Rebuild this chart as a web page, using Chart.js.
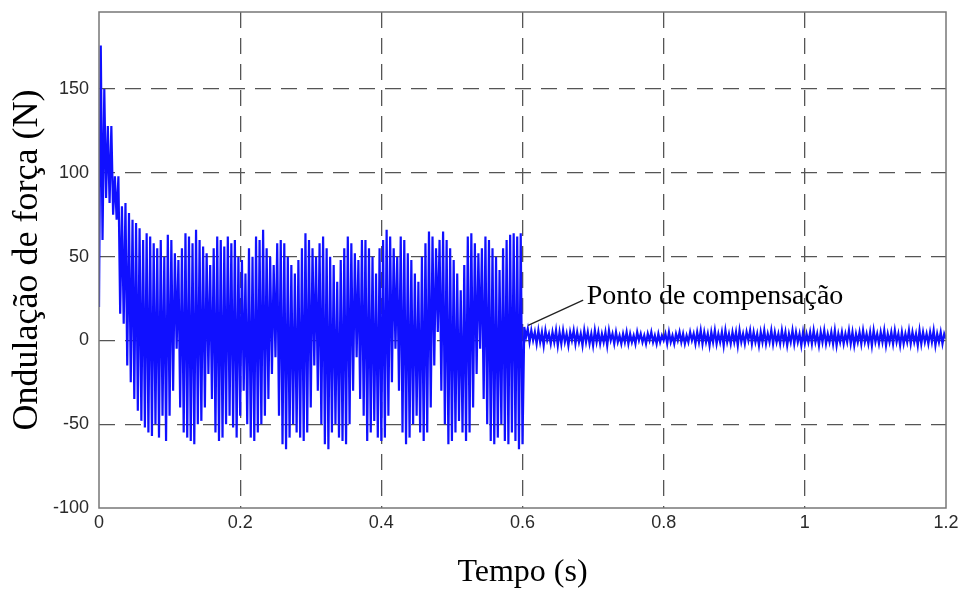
<!DOCTYPE html>
<html>
<head>
<meta charset="utf-8">
<script src="https://cdn.jsdelivr.net/npm/chart.js@4.4.1/dist/chart.umd.min.js"></script>
<style>
  html, body { margin: 0; padding: 0; background: #fff; }
  #wrap { width: 965px; height: 590px; }
</style>
</head>
<body>
<div id="wrap"><canvas id="force-chart"></canvas></div>
<script>
// sample step of the trace (s)
const dt = 0.0025;

// force ripple before compensation, t = 0 .. 0.6 s
const forceBefore = [
  20, 176, 60, 150, 85, 128, 82, 128, 75, 98, 72, 98,
  16, 80, 10, 82, -15, 76, -25, 72, -35, 70, -42, 67, -48, 60, -52, 64,
  -55, 62, -57, 58, -50, 55, -58, 60, -45, 50, -60, 63,
  -45, 60, -30, 52, -5, 48, -40, 55, -55, 64, -58, 62, -60, 58, -62, 66, -50, 60, -48, 56,
  -40, 52, -20, 45, -35, 55, -55, 62, -60, 60, -58, 56, -50, 62, -45, 58, -52, 60, -58, 50,
  -45, 48, -30, 40, -50, 55, -58, 50, -60, 62, -55, 60, -50, 66, -45, 55, -35, 50, -20, 45,
  -10, 58, -45, 60, -62, 58, -65, 50, -58, 45, -50, 40, -55, 48, -58, 55, -60, 64, -55, 60,
  -40, 55, -15, 50, -30, 58, -50, 62, -62, 55, -65, 50, -55, 45, -50, 35, -58, 48, -60, 55,
  -62, 62, -50, 58, -30, 52, -10, 48, -35, 60, -45, 60, -60, 55, -55, 50, -48, 40, -58, 55,
  -60, 60, -58, 66, -45, 62, -25, 55, -5, 50, -30, 62, -55, 60, -62, 52, -58, 48, -50, 40,
  -45, 35, -55, 50, -60, 58, -55, 65, -40, 62, -15, 55, 5, 60, -30, 65, -50, 60, -62, 55,
  -60, 48, -55, 40, -48, 30, -55, 45, -60, 62, -55, 64, -40, 58, -20, 52, -5, 55, -35, 62,
  -50, 60, -60, 55, -62, 50, -58, 42, -50, 55, -60, 60, -62, 63, -55, 64, -60, 62, -65, 64,
  -62
];

// force ripple after compensation, t = 0.6025 .. 1.2 s
const forceAfter = [
  8, 2, 7, -1, 6, 0, 5, -2, 6, -1, 5, -3, 6, 0, 4, -2, 5, -1, 6, -3,
  5, -2, 6, -1, 4, -3, 5, 0, 6, -2, 5, -1, 4, -3, 6, -1, 5, -2, 4, -3,
  6, -1, 5, -2, 4, -1, 5, -3, 6, 0, 4, -2, 5, -1, 3, -2, 4, -1, 5, -2,
  4, -1, 3, -2, 5, 0, 4, -1, 3, -2, 4, 0, 5, -1, 3, -2, 4, -1, 3, 0,
  4, -2, 5, -1, 3, -2, 4, 0, 5, -1, 4, -2, 3, -1, 5, 0, 4, -2, 5, -1,
  6, -2, 5, -1, 4, -3, 5, -1, 6, -2, 4, -1, 5, -3, 6, -1, 4, -2, 5, -1,
  5, -3, 6, -1, 4, -2, 5, 0, 6, -2, 5, -1, 4, -3, 5, -1, 6, -2, 4, -1,
  6, -2, 5, -1, 4, -2, 6, -1, 5, -3, 4, -1, 6, -2, 5, -1, 4, -3, 5, -2,
  4, -1, 5, -2, 6, -1, 4, -3, 5, -1, 6, -2, 4, -1, 5, -2, 6, -3, 4, -1,
  5, -2, 4, -1, 6, -2, 5, -3, 4, -1, 5, -2, 6, -1, 4, -2, 5, -3, 6, -1,
  4, -2, 5, -1, 6, -3, 4, -1, 5, -2, 6, -1, 4, -3, 5, -2, 4, -1, 6, -2,
  5, -1, 4, -3, 6, -2, 5, -1, 4, -2, 5, -1, 6, -3, 4, -1, 5, -2, 4, 1
];

// axis ticks
const xTicks = [0, 0.2, 0.4, 0.6, 0.8, 1, 1.2];
const yTicks = [-100, -50, 0, 50, 100, 150];

// annotation (data coordinates)
const noteText = 'Ponto de compensação';
const noteFrom = { x: 0.608, y: 9 };
const noteTo = { x: 0.686, y: 24 };
const noteTextAt = { x: 0.691, y: 22 };

const forceValues = forceBefore.concat(forceAfter);
const points = forceValues.map((v, i) => ({ x: i * dt, y: v }));

// box around the plot + annotation
const framePlugin = {
  id: 'frame',
  afterDraw(chart) {
    const ctx = chart.ctx;
    const area = chart.chartArea;
    const xs = chart.scales.x;
    const ys = chart.scales.y;
    ctx.save();
    ctx.strokeStyle = '#777';
    ctx.lineWidth = 1.5;
    ctx.strokeRect(area.left, area.top, area.right - area.left, area.bottom - area.top);

    ctx.strokeStyle = '#222';
    ctx.lineWidth = 1.3;
    ctx.beginPath();
    ctx.moveTo(xs.getPixelForValue(noteFrom.x), ys.getPixelForValue(noteFrom.y));
    ctx.lineTo(xs.getPixelForValue(noteTo.x), ys.getPixelForValue(noteTo.y));
    ctx.stroke();

    ctx.fillStyle = '#000';
    ctx.font = '28px "Liberation Serif", "Times New Roman", serif';
    ctx.textAlign = 'left';
    ctx.textBaseline = 'alphabetic';
    ctx.fillText(noteText, xs.getPixelForValue(noteTextAt.x), ys.getPixelForValue(noteTextAt.y));
    ctx.restore();
  }
};

const tickFont = { family: '"Liberation Sans", Arial, sans-serif', size: 18 };
const titleFont = { family: '"Liberation Serif", "Times New Roman", serif', lineHeight: 1 };

new Chart(document.getElementById('force-chart'), {
  type: 'line',
  data: {
    datasets: [{
      data: points,
      borderColor: '#1010ff',
      borderWidth: 2.2,
      pointRadius: 0,
      tension: 0,
      fill: false
    }]
  },
  options: {
    responsive: true,
    maintainAspectRatio: false,
    animation: false,
    parsing: false,
    normalized: true,
    layout: { padding: { top: 12, right: 19, left: 0, bottom: 0 } },
    plugins: {
      legend: { display: false },
      tooltip: { enabled: false }
    },
    scales: {
      x: {
        type: 'linear',
        min: 0,
        max: 1.2,
        z: 1,
        afterFit: scale => {
          scale.height = 82;
          scale.paddingLeft = 0;
          scale.paddingRight = 0;
        },
        afterBuildTicks: scale => { scale.ticks = xTicks.map(v => ({ value: v })); },
        ticks: {
          color: '#2a2a2a',
          font: tickFont,
          padding: 4,
          maxRotation: 0,
          callback: v => String(+v.toFixed(1))
        },
        grid: {
          color: ctx => (ctx.tick && (ctx.tick.value === 0 || ctx.tick.value === 1.2)) ? 'rgba(0,0,0,0)' : '#555',
          lineWidth: 1.3,
          drawTicks: false
        },
        border: { display: false, dash: [16, 10] },
        title: {
          display: true,
          text: 'Tempo (s)',
          color: '#000',
          font: Object.assign({ size: 32 }, titleFont),
          padding: { top: 0, bottom: 1 }
        }
      },
      y: {
        min: -100,
        max: 196,
        z: 1,
        afterFit: scale => {
          scale.width = 99;
          scale.paddingTop = 0;
          scale.paddingBottom = 0;
        },
        afterBuildTicks: scale => { scale.ticks = yTicks.map(v => ({ value: v })); },
        ticks: {
          color: '#2a2a2a',
          font: tickFont,
          padding: 10
        },
        grid: {
          color: ctx => (ctx.tick && ctx.tick.value === -100) ? 'rgba(0,0,0,0)' : '#555',
          lineWidth: 1.3,
          drawTicks: false
        },
        border: { display: false, dash: [16, 10] },
        title: {
          display: true,
          text: 'Ondulação de força (N)',
          color: '#000',
          font: Object.assign({ size: 36 }, titleFont),
          padding: { top: 10, bottom: 0 }
        }
      }
    }
  },
  plugins: [framePlugin]
});
</script>
</body>
</html>
